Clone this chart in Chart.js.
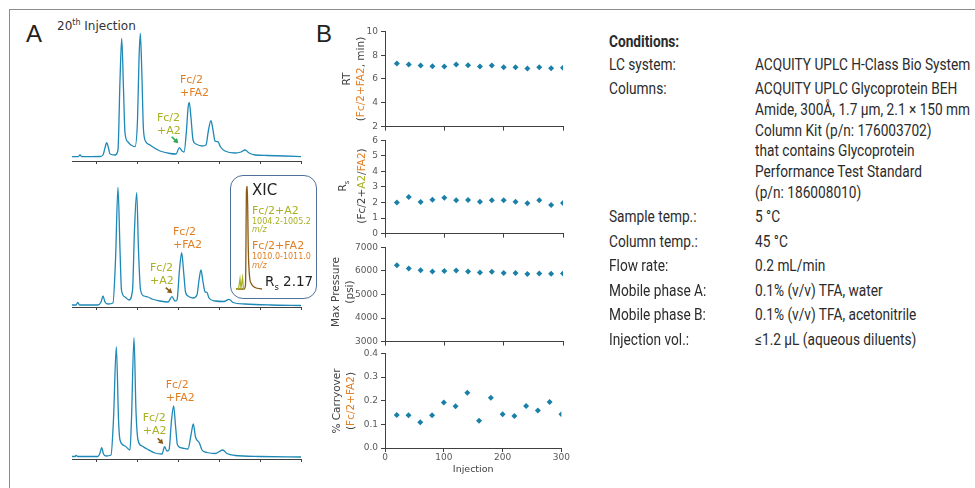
<!DOCTYPE html>
<html>
<head>
<meta charset="utf-8">
<script src="https://cdn.jsdelivr.net/npm/chart.js@4.4.1/dist/chart.umd.min.js"></script>
<style>
  body { margin: 0; width: 975px; height: 488px; overflow: hidden; background: #fff; position: relative;
         font-family: "DejaVu Sans", sans-serif; color: #404040; }
  canvas { position: absolute; }
  .t { position: absolute; line-height: 1; white-space: nowrap; }
  .frame-top { position: absolute; left: 9px; top: 9px; width: 966px; border-top: 1px solid #8c8c8c; }
  .frame-left { position: absolute; left: 9px; top: 9px; height: 479px; border-left: 1px solid #8c8c8c; }
  .panel { font-family: "Liberation Sans", Arial, sans-serif; font-size: 24px; color: #231f20; }
  .xic { position: absolute; left: 230px; top: 175px; width: 85px; height: 122px; border: 1.5px solid #4f7099;
         border-radius: 13px; background: #fff; }
  .ytitle { position: absolute; transform: translate(-50%, -50%) rotate(-90deg); text-align: center;
            font-size: 10.5px; line-height: 13.5px; white-space: nowrap; color: #404040; }
  .or { color: #e27f24; }
  .ol { color: #a7b121; }
  .cond { position: absolute; line-height: 1; white-space: nowrap; font-family: "Liberation Sans Narrow", Roboto, sans-serif;
          font-size: 16px; color: #2b2b2b; transform: scaleX(0.855); transform-origin: left center; }
</style>
</head>
<body>
<div class="frame-top"></div>
<div class="frame-left"></div>

<div class="t panel" style="left:26px; top:22px">A</div>
<div class="t panel" style="left:316px; top:22px">B</div>
<div class="t" style="left:57px; top:19px; font-size:12px; color:#333">20<sup style="font-size:8px">th</sup> Injection</div>

<canvas id="chromA" width="250" height="140" style="left:60px; top:25px"></canvas>
<canvas id="chromB" width="250" height="140" style="left:60px; top:171px"></canvas>
<canvas id="chromC" width="250" height="140" style="left:60px; top:323px"></canvas>

<div class="xic"></div>
<canvas id="xic" width="30" height="104" style="left:236px; top:186px"></canvas>
<div class="t" style="left:252px; top:183px; font-size:15px; color:#222">XIC</div>
<div class="t ol" style="left:252px; top:205px; font-size:11px">Fc/2+A2</div>
<div class="t ol" style="left:252px; top:218px; font-size:8px">1004.2-1005.2</div>
<div class="t ol" style="left:252px; top:226px; font-size:8px; font-style:italic">m/z</div>
<div class="t or" style="left:252px; top:240px; font-size:11px">Fc/2+FA2</div>
<div class="t or" style="left:252px; top:253px; font-size:8px">1010.0-1011.0</div>
<div class="t or" style="left:252px; top:262px; font-size:8px; font-style:italic">m/z</div>
<div class="t" style="left:265px; top:275px; font-size:13.5px; color:#222">R<sub style="font-size:8.5px">s</sub> 2.17</div>

<canvas id="trendRT" width="220" height="112" style="left:350px; top:23px"></canvas>
<canvas id="trendRs" width="220" height="110" style="left:350px; top:132px"></canvas>
<canvas id="trendP" width="220" height="111" style="left:350px; top:239px"></canvas>
<canvas id="trendC" width="220" height="135" style="left:350px; top:345px"></canvas>

<div class="ytitle" style="left:353px; top:79px">RT<br>(<span class="or">Fc/2+FA2</span>, min)</div>
<div class="ytitle" style="left:352px; top:186px">R<sub style="font-size:7px">s</sub><br>(Fc/2+<span class="ol">A2</span>/<span class="or">FA2</span>)</div>
<div class="ytitle" style="left:342px; top:292px">Max Pressure<br>(psi)</div>
<div class="ytitle" style="left:343px; top:401px">% Carryover<br>(<span class="or">Fc/2+FA2</span>)</div>

<div class="cond" style="left:609px; top:34px; font-weight:bold">Conditions:</div>
<div class="cond" style="left:609px; top:57px">LC system:</div>
<div class="cond" style="left:755px; top:57px">ACQUITY UPLC H-Class Bio System</div>
<div class="cond" style="left:609px; top:81px">Columns:</div>
<div class="cond" style="left:755px; top:81px">ACQUITY UPLC Glycoprotein BEH</div>
<div class="cond" style="left:755px; top:102px">Amide, 300Å, 1.7 µm, 2.1 × 150 mm</div>
<div class="cond" style="left:755px; top:123px">Column Kit (p/n: 176003702)</div>
<div class="cond" style="left:755px; top:143px">that contains Glycoprotein</div>
<div class="cond" style="left:755px; top:164px">Performance Test Standard</div>
<div class="cond" style="left:755px; top:185px">(p/n: 186008010)</div>
<div class="cond" style="left:609px; top:209px">Sample temp.:</div>
<div class="cond" style="left:755px; top:209px">5 °C</div>
<div class="cond" style="left:609px; top:234px">Column temp.:</div>
<div class="cond" style="left:755px; top:234px">45 °C</div>
<div class="cond" style="left:609px; top:258px">Flow rate:</div>
<div class="cond" style="left:755px; top:258px">0.2 mL/min</div>
<div class="cond" style="left:609px; top:283px">Mobile phase A:</div>
<div class="cond" style="left:755px; top:283px">0.1% (v/v) TFA, water</div>
<div class="cond" style="left:609px; top:307px">Mobile phase B:</div>
<div class="cond" style="left:755px; top:307px">0.1% (v/v) TFA, acetonitrile</div>
<div class="cond" style="left:609px; top:332px">Injection vol.:</div>
<div class="cond" style="left:755px; top:332px">≤1.2 µL (aqueous diluents)</div>

<script>
// chromatograms, retention time (min) vs signal (relative units)
const chromTicks = [5, 10, 15, 20, 25, 30];

const timeA = [2.0, 2.73, 2.98, 3.22, 5.42, 5.79, 6.03, 6.24, 6.46, 6.65, 7.26, 7.62, 7.87, 8.08, 8.30, 8.48, 8.85, 9.21, 9.70, 10.01,
  10.19, 10.35, 10.53, 10.74, 11.05, 11.54, 11.90, 12.76, 13.98, 14.72, 15.12, 15.45, 15.70, 16.0, 16.19, 16.34, 16.55, 16.80, 17.16, 17.90,
  18.38, 18.69, 18.99, 19.24, 19.48, 19.85, 20.16, 20.71, 21.93, 22.67, 23.16, 23.65, 24.38, 25.85, 28.05, 30.0];
const signalA = [4.3, 4.3, 6, 4.3, 4.5, 6, 13, 18.3, 13, 7, 6, 11, 81, 122.7, 71, 28, 19, 16, 14.3, 41,
  101, 127.7, 91, 31, 19, 16, 14, 10, 7.5, 7, 13.3, 10, 9, 31, 53, 58.7, 43, 21, 17, 15,
  16, 31, 40.3, 31, 20, 19.3, 14, 10, 8, 9, 11, 8, 6, 5.5, 5, 4.3];

const timeB = [2.0, 2.49, 2.70, 2.92, 5.18, 5.55, 5.79, 6.03, 6.40, 7.01, 7.32, 7.62, 7.87, 8.05, 8.48, 8.97, 9.40, 9.64, 9.91, 10.13,
  10.38, 10.80, 11.29, 11.78, 12.76, 13.74, 14.23, 14.59, 14.84, 15.14, 15.41, 15.63, 15.88, 16.18, 16.79, 17.28, 17.53, 17.77, 18.02, 18.26,
  18.51, 18.75, 19.49, 20.59, 21.20, 21.69, 23.15, 26.21, 30.0];
const signalB = [2, 2, 4.5, 2, 2, 5, 11, 5, 3, 4, 47, 119.7, 57, 17, 10, 7, 17, 77, 114.3, 57,
  17, 11, 10, 8, 6, 5, 10.3, 6, 7, 37, 54.3, 37, 15, 11, 9, 12, 27, 37, 25, 15.3,
  14.5, 9, 6, 5.5, 7.7, 4.5, 3, 2, 1.5];

const timeC = [2.0, 2.37, 2.49, 2.73, 5.18, 5.42, 5.63, 5.85, 6.16, 6.77, 7.07, 7.42, 7.69, 7.87, 8.48, 9.09, 9.27, 9.58, 9.82, 10.07,
  10.56, 11.17, 12.15, 13.00, 13.33, 13.61, 13.86, 14.17, 14.43, 14.65, 14.90, 15.45, 16.18, 16.55, 16.83, 17.10, 17.56, 17.90, 18.51, 19.49,
  20.43, 20.95, 21.93, 24.99, 30.0];
const signalC = [2.5, 2.5, 3.7, 2.5, 2.5, 6, 11.3, 5, 3, 4, 39, 112.3, 39, 19, 13, 9, 39, 121.3, 49, 19,
  13, 10, 6, 5, 12.3, 8, 9, 39, 53, 34, 14, 11, 10, 24, 35, 22, 16.3, 9, 6.5, 5.5,
  9, 5.5, 3.5, 2.5, 2];

// extracted ion chromatograms in the inset
const xicTimeA2 = [15.0, 15.125, 15.2, 15.25, 15.325, 15.375, 15.45];
const xicSignalA2 = [0.5, 1, 11, 2, 12, 1, 0.5];
const xicTimeFA2 = [15.0, 15.4, 15.475, 15.525, 15.565, 15.615, 15.675, 15.775, 15.95, 16.3];
const xicSignalFA2 = [1, 1, 5, 100, 104, 40, 14, 6, 2.5, 1];

// panel B, one value every 20 injections
const injections = [20, 40, 60, 80, 100, 120, 140, 160, 180, 200, 220, 240, 260, 280, 300];
const retentionTime = [7.30, 7.21, 7.13, 7.08, 7.05, 7.21, 7.16, 7.05, 7.13, 6.99, 6.99, 6.88, 6.99, 6.91, 6.94];
const resolution = [2.01, 2.35, 2.03, 2.18, 2.30, 2.14, 2.16, 2.05, 2.14, 2.14, 2.05, 1.95, 2.14, 1.84, 1.97];
const maxPressure = [6245, 6105, 6035, 5979, 5993, 6021, 5979, 5937, 5965, 5909, 5909, 5867, 5895, 5881, 5895];
const carryover = [0.140, 0.139, 0.109, 0.138, 0.192, 0.177, 0.234, 0.115, 0.213, 0.143, 0.135, 0.178, 0.159, 0.194, 0.143];

const BLUE = '#1e88b6';
const MARK = '#1a80a8';
const ORANGE = '#e27f24';
const OLIVE = '#a7b121';
const BROWN = '#8b5a14';
const GREEN = '#2aa653';
const AXIS = '#404040';
const TICK = '#595959';

function pairs(xs, ys) {
    return xs.map((x, i) => ({ x: x, y: ys[i] }));
}

// peak names and arrows, placed in data coordinates
const peakLabels = {
    id: 'peakLabels',
    afterDatasetsDraw(chart, args, opts) {
        const ctx = chart.ctx;
        const sx = chart.scales.x, sy = chart.scales.y;
        ctx.save();
        ctx.font = '11px "DejaVu Sans"';
        ctx.textBaseline = 'middle';
        ctx.textAlign = 'left';
        (opts.texts || []).forEach(t => {
            ctx.fillStyle = t.color;
            ctx.fillText(t.text, sx.getPixelForValue(t.x), sy.getPixelForValue(t.y));
        });
        (opts.arrows || []).forEach(a => {
            const x0 = sx.getPixelForValue(a.from[0]), y0 = sy.getPixelForValue(a.from[1]);
            const x1 = sx.getPixelForValue(a.to[0]), y1 = sy.getPixelForValue(a.to[1]);
            const ang = Math.atan2(y1 - y0, x1 - x0);
            ctx.strokeStyle = a.color;
            ctx.fillStyle = a.color;
            ctx.lineWidth = 1.6;
            ctx.beginPath();
            ctx.moveTo(x0, y0);
            ctx.lineTo(x1 - 3 * Math.cos(ang), y1 - 3 * Math.sin(ang));
            ctx.stroke();
            ctx.beginPath();
            ctx.moveTo(x1, y1);
            ctx.lineTo(x1 - 5.5 * Math.cos(ang - 0.55), y1 - 5.5 * Math.sin(ang - 0.55));
            ctx.lineTo(x1 - 5.5 * Math.cos(ang + 0.55), y1 - 5.5 * Math.sin(ang + 0.55));
            ctx.closePath();
            ctx.fill();
        });
        ctx.restore();
    }
};

function chromChart(id, times, signal, labels) {
    new Chart(document.getElementById(id), {
        type: 'line',
        data: {
            datasets: [{
                data: pairs(times, signal),
                borderColor: BLUE,
                borderWidth: 1.3,
                pointRadius: 0,
                cubicInterpolationMode: 'monotone',
                fill: false
            }]
        },
        options: {
            responsive: false,
            animation: false,
            events: [],
            layout: { padding: { left: 12, right: 9, top: 0, bottom: 1 } },
            plugins: { legend: { display: false }, tooltip: { enabled: false }, peakLabels: labels },
            scales: {
                x: {
                    type: 'linear', min: 2, max: 30,
                    afterBuildTicks: s => { s.ticks = chromTicks.map(v => ({ value: v })); },
                    ticks: { display: false },
                    grid: { drawOnChartArea: false, tickLength: 3, color: AXIS },
                    border: { color: AXIS }
                },
                y: { display: false, min: 0, max: 136 }
            }
        },
        plugins: [peakLabels]
    });
}

function peakNotes(fa2, a2, arrowFrom, arrowTo, arrowColor) {
    return {
        texts: [
            { text: 'Fc/2', x: fa2[0], y: fa2[1], color: ORANGE },
            { text: '+FA2', x: fa2[0], y: fa2[1] - 13, color: ORANGE },
            { text: 'Fc/2', x: a2[0], y: a2[1], color: OLIVE },
            { text: '+A2', x: a2[0], y: a2[1] - 13, color: OLIVE }
        ],
        arrows: [{ from: arrowFrom, to: arrowTo, color: arrowColor }]
    };
}

chromChart('chromA', timeA, signalA, peakNotes([15.2, 81], [12.39, 43], [14.19, 24.3], [15.0, 17.7], GREEN));
chromChart('chromB', timeB, signalB, peakNotes([14.35, 75.3], [11.54, 38.5], [13.46, 19.3], [14.26, 13.7], BROWN));
chromChart('chromC', timeC, signalC, peakNotes([13.46, 74], [10.64, 40.7], [12.48, 20.7], [13.16, 15], BROWN));

new Chart(document.getElementById('xic'), {
    type: 'line',
    data: {
        datasets: [
            { data: pairs(xicTimeA2, xicSignalA2), borderColor: OLIVE, borderWidth: 1.2, pointRadius: 0, fill: false },
            { data: pairs(xicTimeFA2, xicSignalFA2), borderColor: BROWN, borderWidth: 1.3, pointRadius: 0,
              cubicInterpolationMode: 'monotone', fill: false }
        ]
    },
    options: {
        responsive: false,
        animation: false,
        events: [],
        layout: { padding: 0 },
        plugins: { legend: { display: false }, tooltip: { enabled: false } },
        scales: {
            x: { type: 'linear', display: false, min: 15.0, max: 16.5 },
            y: { display: false, min: 0, max: 104 }
        }
    }
});

function trendChart(id, values, yMin, yMax, yStep, fmt, showX) {
    const tickFont = { family: 'DejaVu Sans', size: 9 };
    new Chart(document.getElementById(id), {
        type: 'scatter',
        data: {
            datasets: [{
                data: pairs(injections, values),
                pointStyle: 'rectRot',
                pointRadius: 3,
                backgroundColor: MARK,
                borderColor: MARK,
                borderWidth: 0
            }]
        },
        options: {
            responsive: false,
            animation: false,
            events: [],
            layout: { padding: { left: 0, right: 7, top: 8, bottom: 4 } },
            plugins: { legend: { display: false }, tooltip: { enabled: false } },
            scales: {
                x: {
                    min: 0, max: 300,
                    ticks: { display: showX, stepSize: 100, padding: 0, color: TICK, font: tickFont },
                    grid: { drawOnChartArea: false, tickLength: 4, color: AXIS },
                    border: { color: AXIS },
                    title: { display: showX, text: 'Injection', color: AXIS, padding: { top: 0, bottom: 1 },
                             font: { family: 'DejaVu Sans', size: 9.5 } },
                    afterFit: s => { s.height = showX ? 28 : 4; }
                },
                y: {
                    min: yMin, max: yMax,
                    ticks: { stepSize: yStep, padding: 3, color: TICK, font: tickFont, callback: fmt },
                    grid: { drawOnChartArea: false, tickLength: 4, color: AXIS },
                    border: { color: AXIS },
                    afterFit: s => { s.width = 35; }
                }
            }
        }
    });
}

trendChart('trendRT', retentionTime, 2, 10, 2, v => String(v), false);
trendChart('trendRs', resolution, 0, 6, 1, v => String(v), false);
trendChart('trendP', maxPressure, 3000, 7000, 1000, v => String(v), false);
trendChart('trendC', carryover, 0, 0.4, 0.1, v => v.toFixed(1), true);
</script>
</body>
</html>
